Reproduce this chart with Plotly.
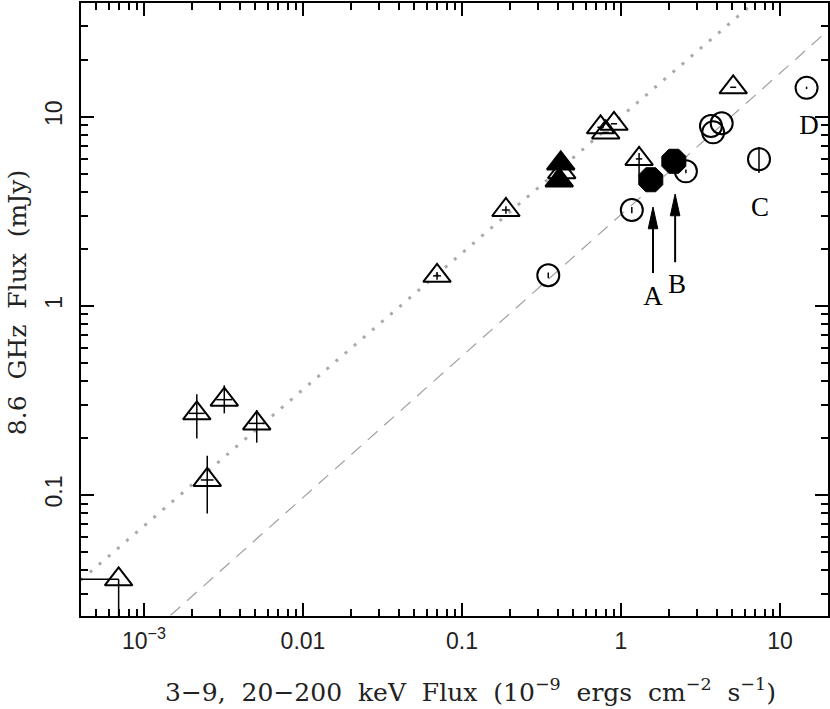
import math
import plotly.graph_objects as go

# fitted correlation lines (end points)
fit_dot_x = [4.0e-4, 7.0]
fit_dot_y = [0.0354, 40.7]
fit_dash_x = [1.47e-3, 20.0]
fit_dash_y = [0.0231, 28.5]

# open triangles
tri_x = [6.93e-4, 2.15e-3, 3.20e-3, 5.12e-3, 2.50e-3, 0.0697, 0.189,
         0.744, 0.904, 0.802, 0.424, 1.30, 5.08]
tri_y = [0.0358, 0.270, 0.319, 0.239, 0.120, 1.44, 3.21,
         8.79, 9.17, 8.25, 5.09, 5.98, 14.3]
tri_x_lo = [1e-6, 1.92e-3, 2.85e-3, 4.56e-3, 2.28e-3, 0.0658, 0.178,
            0.710, 0.865, 0.766, 0.424, 1.24, 4.86]
tri_x_hi = [6.93e-4, 2.41e-3, 3.59e-3, 5.74e-3, 2.74e-3, 0.0738, 0.200,
            0.779, 0.945, 0.838, 0.424, 1.36, 5.30]
tri_y_lo = [1e-4, 0.199, 0.270, 0.189, 0.0798, 1.375, 3.07,
            8.79, 9.17, 8.25, 5.09, 4.80, 14.3]
tri_y_hi = [0.0358, 0.341, 0.380, 0.281, 0.161, 1.508, 3.36,
            8.79, 9.17, 8.25, 5.09, 6.43, 14.3]

# filled triangles
ftri_x = [0.418, 0.409]
ftri_y = [5.66, 4.60]

# open circles
circ_x = [0.349, 1.17, 2.56, 3.68, 4.30, 3.80, 7.38, 14.7]
circ_y = [1.45, 3.21, 5.14, 8.93, 9.23, 8.26, 5.96, 14.2]
circ_y_lo = [1.40, 3.09, 5.02, 8.93, 9.23, 8.26, 5.04, 14.0]
circ_y_hi = [1.50, 3.33, 5.26, 8.93, 9.23, 8.26, 6.92, 14.4]

# filled circles (A, B)
fcirc_x = [1.54, 2.15]
fcirc_y = [4.64, 5.81]

# arrows pointing at A and B
arrow_x = [1.59, 2.19]
arrow_tail_y = [1.49, 1.70]
arrow_tip_y = [3.33, 3.90]

# letter labels
label_text = ['A', 'B', 'C', 'D']
label_x = [1.59, 2.25, 7.48, 15.2]
label_y = [1.10, 1.27, 3.25, 8.83]

x_tickvals = [1e-3, 0.01, 0.1, 1, 10]
x_ticktext = ['10<sup>−3</sup>', '0.01', '0.1', '1', '10']
y_tickvals = [0.1, 1, 10]
y_ticktext = ['0.1', '1', '10']

x_minor = [m * 10.0 ** e for e in range(-4, 2) for m in range(2, 10)]
y_minor = [m * 10.0 ** e for e in range(-2, 2) for m in range(2, 10)]

ERR = dict(type='data', symmetric=False, color='black', thickness=1.5, width=0)

fig = go.Figure()

fig.add_trace(go.Scatter(x=fit_dot_x, y=fit_dot_y, mode='lines',
                         line=dict(color='#aaaaaa', width=3, dash='3px,9px')))
fig.add_trace(go.Scatter(x=fit_dash_x, y=fit_dash_y, mode='lines',
                         line=dict(color='#a0a0a0', width=1.2, dash='13px,9px')))

fig.add_trace(go.Scatter(
    x=circ_x, y=circ_y, mode='markers',
    marker=dict(symbol='circle-open', size=22, color='black', line=dict(width=2)),
    error_y=dict(array=[h - v for h, v in zip(circ_y_hi, circ_y)],
                 arrayminus=[v - l for l, v in zip(circ_y_lo, circ_y)], **ERR)))

fig.add_trace(go.Scatter(
    x=tri_x, y=tri_y, mode='markers',
    marker=dict(symbol='triangle-up-open', size=24, color='black', line=dict(width=2)),
    error_x=dict(array=[h - v for h, v in zip(tri_x_hi, tri_x)],
                 arrayminus=[v - l for l, v in zip(tri_x_lo, tri_x)], **ERR),
    error_y=dict(array=[h - v for h, v in zip(tri_y_hi, tri_y)],
                 arrayminus=[v - l for l, v in zip(tri_y_lo, tri_y)], **ERR)))

fig.add_trace(go.Scatter(
    x=ftri_x, y=ftri_y, mode='markers',
    marker=dict(symbol='triangle-up', size=24, color='black',
                line=dict(width=2, color='black'))))

fig.add_trace(go.Scatter(
    x=fcirc_x, y=fcirc_y, mode='markers',
    marker=dict(symbol='octagon', size=26, color='black',
                line=dict(width=1, color='black'))))

# arrows: a shaft plus a long narrow filled head
head_len = 0.115   # decades in y
half_w = 0.03      # decades in x
for ax, y0, y1 in zip(arrow_x, arrow_tail_y, arrow_tip_y):
    base = 10 ** (math.log10(y1) - head_len)
    xl = 10 ** (math.log10(ax) - half_w)
    xr = 10 ** (math.log10(ax) + half_w)
    fig.add_trace(go.Scatter(x=[ax, ax], y=[y0, base], mode='lines',
                             line=dict(color='black', width=2)))
    fig.add_trace(go.Scatter(x=[xl, ax, xr, xl], y=[base, y1, base, base],
                             mode='lines', fill='toself', fillcolor='black',
                             line=dict(color='black', width=1)))

fig.add_trace(go.Scatter(x=label_x, y=label_y, mode='text', text=label_text,
                         cliponaxis=False,
                         textfont=dict(family='Liberation Serif', size=27, color='black')))

axis_common = dict(
    type='log', showgrid=False, zeroline=False, automargin=False,
    showline=True, linecolor='black', linewidth=2, mirror='ticks',
    ticks='inside', ticklen=13, tickwidth=1.5, tickcolor='black',
    tickfont=dict(family='Liberation Sans', size=23, color='#222222'),
)

fig.update_layout(
    width=830, height=709,
    margin=dict(l=81, r=2, t=3, b=93, autoexpand=False),
    paper_bgcolor='white', plot_bgcolor='white',
    showlegend=False,
    xaxis=dict(range=[-3.396, 1.302], tickmode='array', tickvals=x_tickvals,
               ticktext=x_ticktext, ticklabelstandoff=3,
               minor=dict(tickmode='array', tickvals=x_minor, ticks='inside',
                          ticklen=7, tickwidth=1.5, tickcolor='black', showgrid=False),
               **axis_common),
    yaxis=dict(range=[-1.640, 1.601], tickmode='array', tickvals=y_tickvals,
               ticktext=y_ticktext, tickangle=-90, ticklabelstandoff=8,
               minor=dict(tickmode='array', tickvals=y_minor, ticks='inside',
                          ticklen=7, tickwidth=1.5, tickcolor='black', showgrid=False),
               **axis_common),
    annotations=[
        dict(text='3−9, \u00a020−200 \u00a0keV \u00a0Flux \u00a0(10<sup>−9</sup> \u00a0ergs '
                  '\u00a0cm<sup>−2</sup> \u00a0s<sup>−1</sup>)',
             xref='paper', yref='paper', x=0.521, y=-0.121,
             xanchor='center', yanchor='middle', showarrow=False,
             font=dict(family='DejaVu Serif', size=25, color='#222222')),
        dict(text='8.6 \u00a0GHz \u00a0Flux \u00a0(mJy)',
             xref='paper', yref='paper', x=-0.0857, y=0.512, textangle=-90,
             xanchor='center', yanchor='middle', showarrow=False,
             font=dict(family='DejaVu Serif', size=25, color='#222222')),
    ],
)

# drop the page's default body margin so the figure sits at the window corner
fig.write_html("out.html", config={'displayModeBar': False},
               post_script="document.body.style.margin = '0';")
